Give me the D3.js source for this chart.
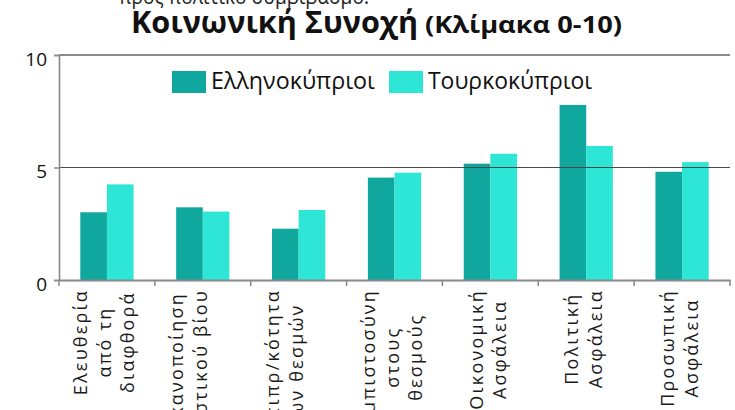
<!DOCTYPE html>
<html><head><meta charset="utf-8">
<script src="https://cdn.jsdelivr.net/npm/d3@7"></script>
<style>
body{margin:0;background:#fff;}
svg{display:block;font-family:"Open Sans",sans-serif;}
</style>
</head><body><svg id="c" width="735" height="410"></svg>
<script>
// ---- data ----
const categories = [
  ["Ελευθερία","από τη","διαφθορά"],
  ["Ικανοποίηση","αστικού βίου",""],
  ["Αντιπρ/κότητα","των θεσμών",""],
  ["Εμπιστοσύνη","στους","θεσμούς"],
  ["Οικονομική","Ασφάλεια"],
  ["Πολιτική","Ασφάλεια"],
  ["Προσωπική","Ασφάλεια"]
];
const seriesNames = ["Ελληνοκύπριοι","Τουρκοκύπριοι"];
const greekCypriots   = [3.01, 3.23, 2.28, 4.55, 5.17, 7.78, 4.81];
const turkishCypriots = [4.25, 3.04, 3.11, 4.77, 5.61, 5.96, 5.24];
const yTicks = [0, 5, 10];
const titleMain = "Κοινωνική Συνοχή";
const titleSub = "(Κλίμακα 0-10)";
const cutText = "προς πολιτικό συμβιβασμό.";

// ---- chart ----
const colors = ["#10a89e", "#2ee6d6"];
const svg = d3.select("#c");
const idx = categories.map((d,i)=>i);
const x0 = d3.scaleBand().domain(idx).range([59, 730]).paddingInner(0).paddingOuter(0);
const x1 = d3.scaleBand().domain([0,1]).range([0, x0.bandwidth()]).paddingInner(0).paddingOuter(0.8);
const y = d3.scaleLinear().domain([0, 10]).range([280, 55]);
const values = [greekCypriots, turkishCypriots];

// top cut-off text
svg.append("text").attr("x", 119).attr("y", 4).attr("font-size", 22).attr("fill", "#222")
  .attr("textLength", 250).attr("lengthAdjust", "spacingAndGlyphs").text(cutText);

// title
svg.append("text").attr("x", 131).attr("y", 33).attr("font-size", 31).attr("font-weight", "bold")
  .attr("fill", "#111").attr("textLength", 287).attr("lengthAdjust", "spacingAndGlyphs").text(titleMain);
svg.append("text").attr("x", 425).attr("y", 33).attr("font-size", 23).attr("font-weight", "bold")
  .attr("fill", "#111").attr("textLength", 197).attr("lengthAdjust", "spacingAndGlyphs").text(titleSub);

// bars
const g = svg.append("g");
values.forEach((vals, s) => {
  g.selectAll(".b"+s).data(vals).join("rect")
    .attr("x", (d,i) => x0(i) + x1(s))
    .attr("width", x1.bandwidth())
    .attr("y", d => y(d))
    .attr("height", d => y(0) - y(d))
    .attr("fill", colors[s]);
});

// gridlines (drawn over bars)
svg.append("line").attr("x1", 59).attr("x2", 730).attr("y1", y(10)).attr("y2", y(10))
  .attr("stroke", "#8a8a8a").attr("stroke-width", 2);
svg.append("line").attr("x1", 59).attr("x2", 730).attr("y1", y(5)).attr("y2", y(5))
  .attr("stroke", "#4a4a4a").attr("stroke-width", 1.2);

// y axis
const yAxis = svg.append("g").attr("transform", "translate(59,0)")
  .call(d3.axisLeft(y).tickValues(yTicks).tickSize(5).tickPadding(7).tickFormat(d3.format("d")));
yAxis.select(".domain").attr("stroke", "#888").attr("stroke-width", 1.6);
yAxis.selectAll(".tick line").attr("stroke", "#888").attr("stroke-width", 1.5);
yAxis.selectAll(".tick text").attr("font-size", 19).attr("font-family", "Open Sans, sans-serif")
  .attr("fill", "#111").attr("dy", "0.55em");

// x axis
const xAxis = svg.append("g").attr("transform", `translate(0,${y(0)})`)
  .call(d3.axisBottom(x0).tickSize(0).tickFormat(""));
xAxis.select(".domain").attr("stroke", "#888").attr("stroke-width", 2);
const bounds = idx.map(i => x0(i)).concat([x0.range()[1]]);
svg.append("g").selectAll("line").data(bounds).join("line")
  .attr("x1", d => d).attr("x2", d => d).attr("y1", y(0)).attr("y2", y(0) + 6)
  .attr("stroke", "#888").attr("stroke-width", 1.5);

// category labels (rotated)
const lineGap = 23.5;
const lab = svg.append("g").attr("font-size", 18).attr("fill", "#1a1a1a").attr("letter-spacing", "2.2px");
categories.forEach((lines, i) => {
  const cx = x0(i) + x0.bandwidth() / 2 - 3;
  const grp = lab.append("g").attr("transform", `translate(${cx},289) rotate(-90)`);
  const ts = lines.map((t, k) => grp.append("text")
    .attr("text-anchor", "middle")
    .attr("dominant-baseline", "central")
    .attr("y", (k - (lines.length - 1) / 2) * lineGap)
    .text(t));
  const maxLen = d3.max(ts, t => t.node().getComputedTextLength());
  ts.forEach(t => t.attr("x", -maxLen / 2));
});

// legend
const lg = svg.append("g");
const legX = [172, 389];
seriesNames.forEach((name, s) => {
  lg.append("rect").attr("x", legX[s]).attr("y", 71).attr("width", 34).attr("height", 22).attr("fill", colors[s]);
  lg.append("text").attr("x", legX[s] + 39).attr("y", 89).attr("font-size", 23).attr("fill", "#111")
    .attr("textLength", 164).attr("lengthAdjust", "spacingAndGlyphs").text(name);
});
</script>
</body></html>
